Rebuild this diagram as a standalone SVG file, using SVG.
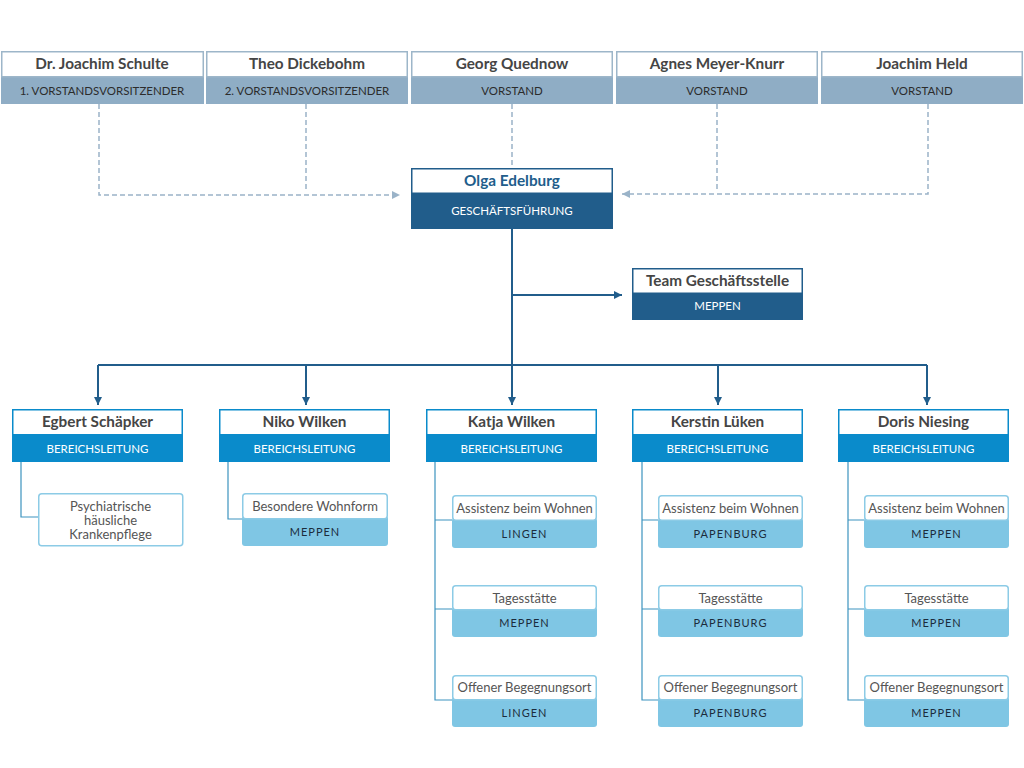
<svg xmlns="http://www.w3.org/2000/svg" width="1024" height="768" viewBox="0 0 1024 768">
<defs>
<style>
text{font-family:Lato,"Open Sans","Liberation Sans",sans-serif;text-anchor:middle}
.nm{font-size:15.3px;font-weight:bold;fill:#454545}
.nmb{font-size:15.3px;font-weight:bold;fill:#215d8b}
.st{font-size:11.5px;fill:#2c2c2c}
.sw{font-size:11.5px;fill:#ffffff}
.sb{font-size:13px;fill:#555555}
.loc{font-size:11px;fill:#1c2c3c;letter-spacing:1px}
.hdTop{fill:#ffffff;stroke:#9db6c9;stroke-width:1.5}
.bandTop{fill:#8fadc5}
.hdDark{fill:#ffffff;stroke:#215d8b;stroke-width:1.5}
.bandDark{fill:#215d8b}
.hdBr{fill:#ffffff;stroke:#0a8bcb;stroke-width:1.5}
.bandBr{fill:#0a8bcb}
.hdSub{fill:#ffffff;stroke:#8ccbe6;stroke-width:1.5}
.bandSub{fill:#7fc6e4}
.dash{fill:none;stroke:#9ab3c8;stroke-width:1.5;stroke-dasharray:5,3}
.solid{fill:none;stroke:#215d8b;stroke-width:2}
.thin{fill:none;stroke:#3d93bf;stroke-width:1.2}
</style>
<marker id="ad" markerWidth="10" markerHeight="10" refX="8" refY="5" orient="auto" markerUnits="userSpaceOnUse">
<path d="M0,1 L8,5 L0,9 Z" fill="#9ab3c8"/>
</marker>
<marker id="as" markerWidth="10" markerHeight="10" refX="8" refY="5" orient="auto" markerUnits="userSpaceOnUse">
<path d="M0,1 L8,5 L0,9 Z" fill="#215d8b"/>
</marker>
</defs>
<rect width="1024" height="768" fill="#ffffff"/>

<g id="connectors">
<path class="dash" d="M99,104 V195 H400" marker-end="url(#ad)"/>
<path class="dash" d="M306,104 V190"/>
<path class="dash" d="M512,104 V168"/>
<path class="dash" d="M928,104 V194 H622" marker-end="url(#ad)"/>
<path class="dash" d="M717,104 V190"/>
<path class="solid" d="M512,229 V365"/>
<path class="solid" d="M512,295 H622" marker-end="url(#as)"/>
<path class="solid" d="M98,365 H927"/>
<path class="solid" d="M98,365 V405" marker-end="url(#as)"/>
<path class="solid" d="M306,365 V405" marker-end="url(#as)"/>
<path class="solid" d="M512,365 V405" marker-end="url(#as)"/>
<path class="solid" d="M718,365 V405" marker-end="url(#as)"/>
<path class="solid" d="M927,365 V405" marker-end="url(#as)"/>
<path class="thin" d="M21,462 V517 H38"/>
<path class="thin" d="M228,462 V519 H242"/>
<path class="thin" d="M435,462 V700 H452 M435,520 H452 M435,609 H452"/>
<path class="thin" d="M642,462 V700 H658 M642,520 H658 M642,609 H658"/>
<path class="thin" d="M848,462 V700 H864 M848,520 H864 M848,609 H864"/>
</g>

<g id="schulte">
<rect class="bandTop" x="1" y="77" width="203" height="27"/>
<rect class="hdTop" x="1.75" y="51.75" width="201.5" height="25"/>
<text class="nm" x="102" y="69">Dr. Joachim Schulte</text>
<text class="st" x="102" y="95">1. VORSTANDSVORSITZENDER</text>
</g>
<g id="dickebohm">
<rect class="bandTop" x="206" y="77" width="202" height="27"/>
<rect class="hdTop" x="206.75" y="51.75" width="200.5" height="25"/>
<text class="nm" x="307" y="69">Theo Dickebohm</text>
<text class="st" x="307" y="95">2. VORSTANDSVORSITZENDER</text>
</g>
<g id="quednow">
<rect class="bandTop" x="411" y="77" width="202" height="27"/>
<rect class="hdTop" x="411.75" y="51.75" width="200.5" height="25"/>
<text class="nm" x="512" y="69">Georg Quednow</text>
<text class="st" x="512" y="95">VORSTAND</text>
</g>
<g id="meyerknurr">
<rect class="bandTop" x="616" y="77" width="202" height="27"/>
<rect class="hdTop" x="616.75" y="51.75" width="200.5" height="25"/>
<text class="nm" x="717" y="69">Agnes Meyer-Knurr</text>
<text class="st" x="717" y="95">VORSTAND</text>
</g>
<g id="held">
<rect class="bandTop" x="821" y="77" width="202" height="27"/>
<rect class="hdTop" x="821.75" y="51.75" width="200.5" height="25"/>
<text class="nm" x="922" y="69">Joachim Held</text>
<text class="st" x="922" y="95">VORSTAND</text>
</g>

<g id="edelburg">
<rect class="bandDark" x="411" y="193" width="202" height="36"/>
<rect class="hdDark" x="411.75" y="168.75" width="200.5" height="24.5"/>
<text class="nmb" x="512" y="186">Olga Edelburg</text>
<text class="sw" x="512" y="215">GESCHÄFTSFÜHRUNG</text>
</g>
<g id="team">
<rect class="bandDark" x="632" y="293" width="171" height="27"/>
<rect class="hdDark" x="632.75" y="268.75" width="169.5" height="24.5"/>
<text class="nm" x="717.5" y="286">Team Geschäftsstelle</text>
<text class="sw" x="717.5" y="310">MEPPEN</text>
</g>

<g id="schaepker">
<rect class="bandBr" x="12" y="435" width="171" height="27"/>
<rect class="hdBr" x="12.75" y="409.75" width="169.5" height="25"/>
<text class="nm" x="97.5" y="427">Egbert Schäpker</text>
<text class="sw" x="97.5" y="453">BEREICHSLEITUNG</text>
</g>
<g id="nwilken">
<rect class="bandBr" x="219" y="435" width="171" height="27"/>
<rect class="hdBr" x="219.75" y="409.75" width="169.5" height="25"/>
<text class="nm" x="304.5" y="427">Niko Wilken</text>
<text class="sw" x="304.5" y="453">BEREICHSLEITUNG</text>
</g>
<g id="kwilken">
<rect class="bandBr" x="426" y="435" width="171" height="27"/>
<rect class="hdBr" x="426.75" y="409.75" width="169.5" height="25"/>
<text class="nm" x="511.5" y="427">Katja Wilken</text>
<text class="sw" x="511.5" y="453">BEREICHSLEITUNG</text>
</g>
<g id="lueken">
<rect class="bandBr" x="632" y="435" width="171" height="27"/>
<rect class="hdBr" x="632.75" y="409.75" width="169.5" height="25"/>
<text class="nm" x="717.5" y="427">Kerstin Lüken</text>
<text class="sw" x="717.5" y="453">BEREICHSLEITUNG</text>
</g>
<g id="niesing">
<rect class="bandBr" x="838" y="435" width="171" height="27"/>
<rect class="hdBr" x="838.75" y="409.75" width="169.5" height="25"/>
<text class="nm" x="923.5" y="427">Doris Niesing</text>
<text class="sw" x="923.5" y="453">BEREICHSLEITUNG</text>
</g>

<g id="pflege">
<rect class="hdSub" x="38.75" y="493.75" width="144" height="52" rx="3"/>
<text class="sb" x="110.5" y="511">Psychiatrische</text>
<text class="sb" x="110.5" y="525">häusliche</text>
<text class="sb" x="110.5" y="539">Krankenpflege</text>
</g>
<g id="wohnform">
<rect class="bandSub" x="242" y="516" width="146" height="30" rx="3"/>
<rect class="hdSub" x="242.75" y="493.75" width="144.5" height="25" rx="3"/>
<text class="sb" x="315" y="511">Besondere Wohnform</text>
<text class="loc" x="315" y="536">MEPPEN</text>
</g>

<g id="k1">
<rect class="bandSub" x="452" y="518" width="145" height="30" rx="3"/>
<rect class="hdSub" x="452.75" y="495.75" width="143.5" height="24.5" rx="3"/>
<text class="sb" x="524.5" y="513">Assistenz beim Wohnen</text>
<text class="loc" x="524.5" y="538">LINGEN</text>
</g>
<g id="k2">
<rect class="bandSub" x="452" y="607" width="145" height="30" rx="3"/>
<rect class="hdSub" x="452.75" y="585.75" width="143.5" height="24" rx="3"/>
<text class="sb" x="524.5" y="603">Tagesstätte</text>
<text class="loc" x="524.5" y="627">MEPPEN</text>
</g>
<g id="k3">
<rect class="bandSub" x="452" y="697" width="145" height="30" rx="3"/>
<rect class="hdSub" x="452.75" y="675.75" width="143.5" height="24" rx="3"/>
<text class="sb" x="524.5" y="692">Offener Begegnungsort</text>
<text class="loc" x="524.5" y="717">LINGEN</text>
</g>

<g id="l1">
<rect class="bandSub" x="658" y="518" width="145" height="30" rx="3"/>
<rect class="hdSub" x="658.75" y="495.75" width="143.5" height="24.5" rx="3"/>
<text class="sb" x="730.5" y="513">Assistenz beim Wohnen</text>
<text class="loc" x="730.5" y="538">PAPENBURG</text>
</g>
<g id="l2">
<rect class="bandSub" x="658" y="607" width="145" height="30" rx="3"/>
<rect class="hdSub" x="658.75" y="585.75" width="143.5" height="24" rx="3"/>
<text class="sb" x="730.5" y="603">Tagesstätte</text>
<text class="loc" x="730.5" y="627">PAPENBURG</text>
</g>
<g id="l3">
<rect class="bandSub" x="658" y="697" width="145" height="30" rx="3"/>
<rect class="hdSub" x="658.75" y="675.75" width="143.5" height="24" rx="3"/>
<text class="sb" x="730.5" y="692">Offener Begegnungsort</text>
<text class="loc" x="730.5" y="717">PAPENBURG</text>
</g>

<g id="n1">
<rect class="bandSub" x="864" y="518" width="145" height="30" rx="3"/>
<rect class="hdSub" x="864.75" y="495.75" width="143.5" height="24.5" rx="3"/>
<text class="sb" x="936.5" y="513">Assistenz beim Wohnen</text>
<text class="loc" x="936.5" y="538">MEPPEN</text>
</g>
<g id="n2">
<rect class="bandSub" x="864" y="607" width="145" height="30" rx="3"/>
<rect class="hdSub" x="864.75" y="585.75" width="143.5" height="24" rx="3"/>
<text class="sb" x="936.5" y="603">Tagesstätte</text>
<text class="loc" x="936.5" y="627">MEPPEN</text>
</g>
<g id="n3">
<rect class="bandSub" x="864" y="697" width="145" height="30" rx="3"/>
<rect class="hdSub" x="864.75" y="675.75" width="143.5" height="24" rx="3"/>
<text class="sb" x="936.5" y="692">Offener Begegnungsort</text>
<text class="loc" x="936.5" y="717">MEPPEN</text>
</g>
</svg>
